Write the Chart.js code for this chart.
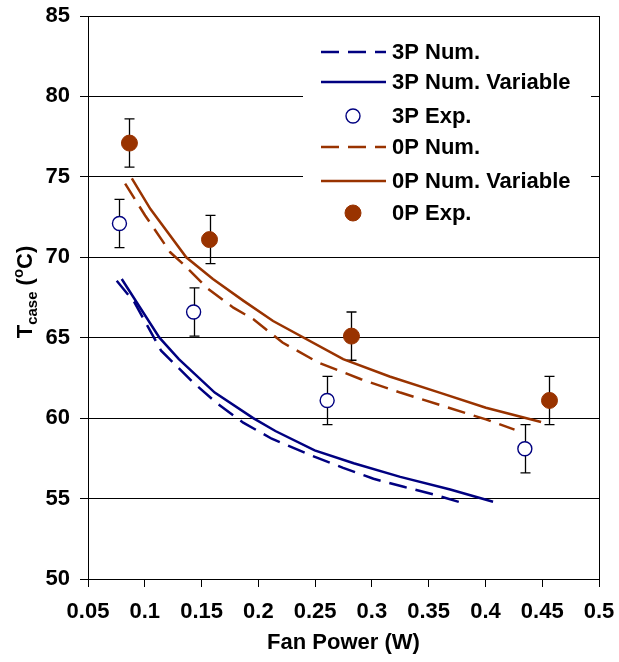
<!DOCTYPE html>
<html>
<head>
<meta charset="utf-8">
<script src="https://cdn.jsdelivr.net/npm/chart.js@4/dist/chart.umd.min.js"></script>
<style>
  html, body { margin: 0; padding: 0; background: #fff; }
  #wrap { width: 619px; height: 662px; }
</style>
</head>
<body>
<div id="wrap"><canvas id="fanChart" width="619" height="662"></canvas></div>
<script>
// values
var num3X = [0.0753, 0.0909, 0.1144, 0.1427, 0.1647, 0.1867, 0.2118, 0.248, 0.2747, 0.3014, 0.328, 0.3548, 0.3815];
var num3Y = [68.54, 67.2, 64.19, 62.21, 60.86, 59.72, 58.72, 57.64, 56.91, 56.23, 55.73, 55.25, 54.69];

var var3X = [0.0797, 0.1129, 0.130, 0.1616, 0.1955, 0.215, 0.2496, 0.284, 0.325, 0.369, 0.4067];
var var3Y = [68.65, 65.0, 63.67, 61.59, 60.0, 59.2, 58.0, 57.2, 56.35, 55.56, 54.8];

var exp3X = [0.0777, 0.143, 0.2606, 0.4347];
var exp3Y = [72.1, 66.6, 61.1, 58.1];
var exp3Err = [1.5, 1.5, 1.5, 1.5];

var num0X = [0.0827, 0.1003, 0.1224, 0.1338, 0.1547, 0.178, 0.1957, 0.2213, 0.2527, 0.2904, 0.325, 0.3627, 0.4004, 0.4256];
var num0Y = [74.58, 72.6, 70.31, 69.58, 68.1, 66.87, 66.15, 64.7, 63.46, 62.42, 61.59, 60.76, 59.92, 59.29];

var var0X = [0.0886, 0.105, 0.1365, 0.160, 0.187, 0.213, 0.2747, 0.3156, 0.3596, 0.4004, 0.449];
var var0Y = [74.9, 73.0, 70.0, 68.65, 67.29, 66.04, 63.67, 62.59, 61.59, 60.65, 59.76];

var exp0X = [0.0865, 0.157, 0.282, 0.4564];
var exp0Y = [77.1, 71.1, 65.1, 61.1];
var exp0Err = [1.5, 1.5, 1.5, 1.5];

var xTickVals = [0.05, 0.1, 0.15, 0.2, 0.25, 0.3, 0.35, 0.4, 0.45, 0.5];
var xTickLabels = ["0.05", "0.1", "0.15", "0.2", "0.25", "0.3", "0.35", "0.4", "0.45", "0.5"];
var yTickVals = [50, 55, 60, 65, 70, 75, 80, 85];

var NAVY = "#000080";
var BROWN = "#993300";
var FONT = "'Liberation Sans', Arial, sans-serif";

function pts(xs, ys) {
    return xs.map(function (x, i) { return { x: x, y: ys[i] }; });
}

// error bars drawn through the scales
var errorBars = {
    id: "errorBars",
    beforeDatasetsDraw: function (chart) {
        var ctx = chart.ctx, xs = chart.scales.x, ys = chart.scales.y;
        ctx.save();
        ctx.strokeStyle = "#000";
        ctx.lineWidth = 1.3;
        chart.data.datasets.forEach(function (ds) {
            if (!ds.err) return;
            ds.data.forEach(function (p, i) {
                var px = Math.round(xs.getPixelForValue(p.x)) + 0.5;
                var top = ys.getPixelForValue(p.y + ds.err[i]);
                var bot = ys.getPixelForValue(p.y - ds.err[i]);
                ctx.beginPath();
                ctx.moveTo(px, top); ctx.lineTo(px, bot);
                ctx.moveTo(px - 5, top); ctx.lineTo(px + 5, top);
                ctx.moveTo(px - 5, bot); ctx.lineTo(px + 5, bot);
                ctx.stroke();
            });
        });
        ctx.restore();
    }
};

// frame, legend box, y title with sub/superscript
var decor = {
    id: "decor",
    afterDraw: function (chart) {
        var ctx = chart.ctx, a = chart.chartArea;
        ctx.save();
        ctx.strokeStyle = "#000";
        ctx.lineWidth = 1;
        ctx.strokeRect(a.left + 0.5, a.top + 0.5, a.right - a.left, a.bottom - a.top);

        // legend
        ctx.fillStyle = "#fff";
        ctx.fillRect(303, 32, 288, 196);
        var rows = [52, 82, 116, 147, 181, 213];
        chart.data.datasets.forEach(function (ds, i) {
            var y = rows[i];
            if (ds.showLine) {
                ctx.strokeStyle = ds.borderColor;
                ctx.lineWidth = ds.borderWidth;
                ctx.setLineDash(ds.borderDash || []);
                ctx.beginPath();
                ctx.moveTo(321, y); ctx.lineTo(386, y);
                ctx.stroke();
                ctx.setLineDash([]);
            } else {
                ctx.beginPath();
                ctx.arc(353, y, ds.pointRadius, 0, Math.PI * 2);
                if (ds.pointBackgroundColor !== "#fff") {
                    ctx.fillStyle = ds.pointBackgroundColor;
                    ctx.fill();
                }
                ctx.strokeStyle = ds.pointBorderColor;
                ctx.lineWidth = ds.pointBorderWidth;
                ctx.stroke();
            }
            ctx.fillStyle = "#000";
            ctx.font = "bold 22px " + FONT;
            ctx.textBaseline = "middle";
            ctx.textAlign = "left";
            ctx.fillText(ds.label, 392, y + 1);
        });

        // y title: T_case (°C)
        var runs = [["T", 22, 0], ["case", 15, 5], [" (", 22, 0], ["o", 15, -9], ["C)", 22, 0]];
        var total = 0;
        runs.forEach(function (r) { ctx.font = "bold " + r[1] + "px " + FONT; total += ctx.measureText(r[0]).width; });
        ctx.translate(32, 292);
        ctx.rotate(-Math.PI / 2);
        ctx.fillStyle = "#000";
        ctx.textBaseline = "alphabetic";
        var pos = -total / 2;
        runs.forEach(function (r) {
            ctx.font = "bold " + r[1] + "px " + FONT;
            ctx.fillText(r[0], pos, r[2]);
            pos += ctx.measureText(r[0]).width;
        });
        ctx.restore();
    }
};

var lineSet = function (label, xs, ys, color, dash) {
    return {
        label: label,
        data: pts(xs, ys),
        showLine: true,
        borderColor: color,
        borderWidth: 2.5,
        borderDash: dash,
        pointRadius: 0,
        pointHoverRadius: 0,
        tension: 0,
        fill: false
    };
};

var config = {
    type: "scatter",
    data: {
        datasets: [
            lineSet("3P Num.", num3X, num3Y, NAVY, [18, 9]),
            lineSet("3P Num. Variable", var3X, var3Y, NAVY, []),
            {
                label: "3P Exp.",
                data: pts(exp3X, exp3Y),
                err: exp3Err,
                showLine: false,
                pointRadius: 7,
                pointBackgroundColor: "#fff",
                pointBorderColor: NAVY,
                pointBorderWidth: 1.4
            },
            lineSet("0P Num.", num0X, num0Y, BROWN, [18, 9]),
            lineSet("0P Num. Variable", var0X, var0Y, BROWN, []),
            {
                label: "0P Exp.",
                data: pts(exp0X, exp0Y),
                err: exp0Err,
                showLine: false,
                pointRadius: 8,
                pointBackgroundColor: BROWN,
                pointBorderColor: BROWN,
                pointBorderWidth: 1
            }
        ]
    },
    options: {
        responsive: false,
        animation: false,
        events: [],
        layout: { padding: { left: 0, top: 16, right: 20, bottom: 0 } },
        plugins: { legend: { display: false }, tooltip: { enabled: false } },
        scales: {
            x: {
                type: "linear",
                min: 0.05,
                max: 0.5,
                afterBuildTicks: function (s) { s.ticks = xTickVals.map(function (v) { return { value: v }; }); },
                afterFit: function (s) { s.height = 83; s.paddingLeft = 0; s.paddingRight = 0; },
                grid: { drawOnChartArea: false, drawTicks: true, tickLength: 8, color: "#000", lineWidth: 1 },
                border: { display: true, color: "#000", width: 1 },
                ticks: {
                    padding: 12,
                    color: "#000",
                    font: { family: FONT, size: 22, weight: "bold" },
                    maxRotation: 0,
                    autoSkip: false,
                    callback: function (v, i) { return xTickLabels[i]; }
                },
                title: {
                    display: true,
                    text: "Fan Power (W)",
                    color: "#000",
                    font: { family: FONT, size: 22, weight: "bold" },
                    padding: { top: 0, bottom: 6 }
                }
            },
            y: {
                min: 50,
                max: 85,
                afterBuildTicks: function (s) { s.ticks = yTickVals.map(function (v) { return { value: v }; }); },
                afterFit: function (s) { s.width = 88; s.paddingTop = 0; s.paddingBottom = 0; },
                grid: { drawOnChartArea: true, drawTicks: true, tickLength: 8, color: "#000", lineWidth: 1 },
                border: { display: true, color: "#000", width: 1 },
                ticks: {
                    padding: 10,
                    color: "#000",
                    font: { family: FONT, size: 22, weight: "bold" },
                    callback: function (v) { return String(v); }
                }
            }
        }
    },
    plugins: [errorBars, decor]
};

var fanChart = new Chart(document.getElementById("fanChart"), config);
</script>
</body>
</html>
